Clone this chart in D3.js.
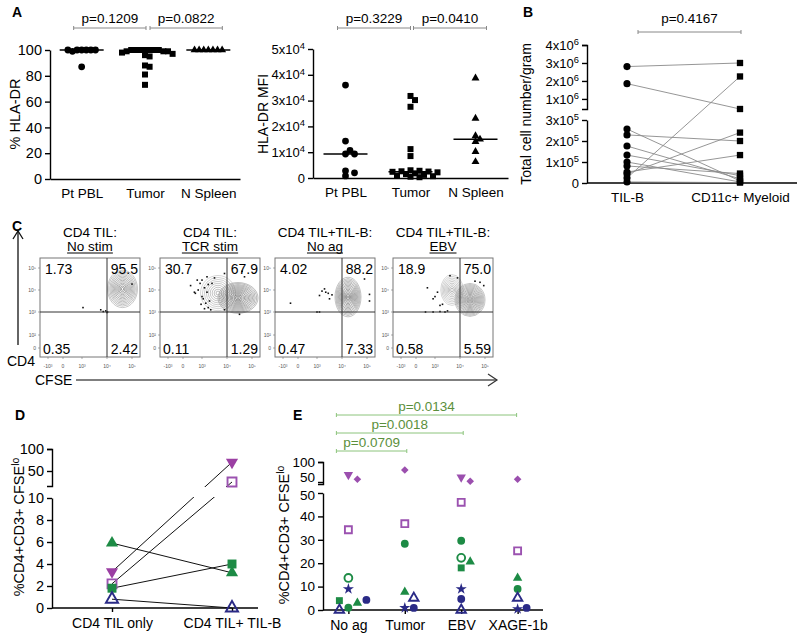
<!DOCTYPE html>
<html><head><meta charset="utf-8">
<script src="https://cdn.jsdelivr.net/npm/d3@7"></script>
<style>body{margin:0;background:#fff}svg{display:block}text{font-family:"Liberation Sans",Arial,Helvetica,sans-serif}</style>
</head><body><svg id="c" width="800" height="639"></svg>
<script>
// ---------------- DATA ----------------
const catsA = ["Pt PBL", "Tumor", "N Spleen"];
const pctTicks = [0, 20, 40, 60, 80, 100];
const pctPBL = [100, 100, 100, 100, 99, 100, 100, 87];
const pctTumor = [100, 100, 100, 100, 100, 100, 100, 99, 99, 99, 98, 97, 96, 95, 88, 87, 81, 73];
const pctSpleen = [100, 100, 100, 100, 100, 100, 100];
const pA1 = ["p=0.1209", "p=0.0822"];

const mfiTicks = [0, 10000, 20000, 30000, 40000, 50000];
const mfiPBL = [36000, 14300, 9300, 9300, 10700, 2800, 2000, 800];
const mfiTumor = [31800, 30200, 27600, 11200, 8500, 3000, 2800, 2600, 2500, 2400, 2200, 1800, 1500, 1200, 900, 700, 500, 300];
const mfiSpleen = [38700, 23100, 16300, 14100, 15000, 10200, 6300];
const pA2 = ["p=0.3229", "p=0.0410"];

const catsB = ["TIL-B", "CD11c+ Myeloid"];
const bTicksLow = [0, 100000, 200000, 300000];
const bTicksHigh = [1000000, 2000000, 3000000, 4000000];
const tilB =    [2800000, 1850000, 257000, 229000, 176000, 133000, 100000, 81000, 52000, 43000, 24000, 5000];
const myeloid = [3000000, 440000, 10000, 200000, 20000, 35000, 5000, 45000, 133000, 240000, 2250000, 2000];
const pB = "p=0.4167";

const flowTitle1 = ["CD4 TIL:", "CD4 TIL:", "CD4 TIL+TIL-B:", "CD4 TIL+TIL-B:"];
const flowTitle2 = ["No stim", "TCR stim", "No ag", "EBV"];
const quadUL = ["1.73", "30.7", "4.02", "18.9"];
const quadUR = ["95.5", "67.9", "88.2", "75.0"];
const quadLL = ["0.35", "0.11", "0.47", "0.58"];
const quadLR = ["2.42", "1.29", "7.33", "5.59"];
const flowXTicks = ["-10³", "0", "10³", "10⁴", "10⁵"];
const flowYTicks = ["0", "10²", "10³", "10⁴", "10⁵"];
// populations: [center x (decades), center y (decades), radius x, radius y, rings, shade]
const flowPops = [
  [[2.62, 3.05, 0.6, 0.85, 13, 0.6]],
  [[1.64, 2.86, 0.7, 0.8, 9, 0.45], [2.44, 2.64, 0.8, 0.7, 15, 0.7]],
  [[2.24, 2.68, 0.52, 0.9, 15, 0.65]],
  [[1.68, 3.0, 0.45, 0.7, 9, 0.45], [2.4, 2.55, 0.6, 0.75, 15, 0.65]]
];
const flowDots = [
  [[1.04,2.2],[1.75,2.1],[1.85,2.02],[1.95,2.05],[2.0,1.98],[2.02,2.0],[3.0,3.27]],
  [[0.4,3.2],[0.6,2.9],[0.65,2.85],[0.8,3.0],[0.9,3.3],[1.0,3.45],[1.1,3.1],[1.2,2.9],[1.0,2.7],[1.05,2.6],[1.15,2.4],[1.25,2.2],[1.3,2.5],[1.35,2.1],[0.95,2.35],[1.1,2.15],[1.2,3.6],[1.4,3.3],[1.5,3.55],[1.9,3.75],[2.6,3.85],[2.7,3.6],[1.9,2.1],[2.5,1.9],[0.75,3.45],[1.25,3.25]],
  [[-0.5,2.4],[1.2,2.95],[1.3,3.05],[1.35,2.9],[1.45,2.85],[1.5,2.6],[1.1,2.75],[1.6,2.78],[1.0,2.0],[1.1,2.0],[2.9,3.5],[3.1,2.5],[3.1,2.8]],
  [[0.6,3.1],[0.9,2.6],[1.0,2.7],[1.1,2.9],[1.2,2.3],[1.3,2.35],[0.5,2.0],[0.9,2.0],[1.2,2.02],[1.4,2.0],[1.5,2.05],[1.6,3.65],[1.9,3.55],[2.6,3.4],[2.8,3.35],[2.95,3.2]]
];

const catsD = ["CD4 TIL only", "CD4 TIL+ TIL-B"];
const dTicksLow = [0, 2, 4, 6, 8, 10];
const dTicksHigh = [50, 100];
const dMarkers = ["tri", "triDown", "squareOpen", "square", "triOpen"];
const dColors = ["#1d8b45", "#9b3fa3", "#9b52b0", "#1d8b45", "#2a2a86"];
const dBefore = [5.9, 3.3, 2.2, 1.8, 0.8];
const dAfter = [3.2, 70, 25, 4.0, 0];

const catsE = ["No ag", "Tumor", "EBV", "XAGE-1b"];
const eTicksLow = [0, 10, 20, 30, 40, 50];
const eTicksHigh = [50, 100];
const eMarkers = ["triDown", "diamond", "squareOpen", "circleOpen", "circle", "tri", "square", "star", "circle", "triOpen"];
const eColors = ["#9b4fae", "#9b4fae", "#9b52b0", "#1d8b45", "#1d8b45", "#1d8b45", "#1d8b45", "#2a2a86", "#2a2a86", "#2a2a86"];
const eNoAg  = [68, 57, 34.3, 13.7, 1, 3, 4, 9, 4.3, 0];
const eTumor = [null, 80, 36.9, null, 28.3, 7.7, null, 0.9, 0.9, 5.1];
const eEBV   = [62, 52, 46, 22.3, 29.6, 20.6, 18, 9, 4.7, 0];
const eXAGE  = [null, 57, 25.3, null, 9, 13.7, null, 0.4, 0.9, 5.1];
const pE = ["p=0.0709", "p=0.0018", "p=0.0134"];

// ---------------- HELPERS ----------------
const svg = d3.select("#c");
function styleAxis(g, fs, sw) {
  g.selectAll("text").attr("font-size", fs).attr("fill", "#000").attr("font-family", '"Liberation Sans",Arial,sans-serif');
  g.selectAll("line,path").attr("stroke", "#000").attr("stroke-width", sw || 1.4);
  return g;
}
function supTicks(g, exp, fs) {
  g.selectAll(".tick text").each(function (d) {
    const t = d3.select(this);
    if (d === 0) { t.text("0"); return; }
    t.text(null);
    t.append("tspan").text(Math.round(d / Math.pow(10, exp)) + "x10");
    t.append("tspan").attr("dy", "-0.5em").attr("font-size", fs * 0.72).text(exp);
  });
}
function marker(g, type, color, x, y, s) {
  let path, rot = 0, fill = color, stroke = "none", sw = 0;
  const open = type.endsWith("Open");
  const base = open ? type.replace("Open", "") : type;
  if (base === "circle") path = d3.symbol().type(d3.symbolCircle).size(s)();
  else if (base === "square") path = d3.symbol().type(d3.symbolSquare).size(s)();
  else if (base === "tri") path = d3.symbol().type(d3.symbolTriangle).size(s * 0.8)();
  else if (base === "triDown") { path = d3.symbol().type(d3.symbolTriangle).size(s * 0.8)(); rot = 180; }
  else if (base === "diamond") { path = d3.symbol().type(d3.symbolSquare).size(s * 0.6)(); rot = 45; }
  else if (base === "star") path = d3.symbol().type(d3.symbolStar).size(s * 0.8)();
  if (open) { fill = "none"; stroke = color; sw = 1.9; }
  g.append("path").attr("d", path).attr("transform", `translate(${x},${y}) rotate(${rot})`)
    .attr("fill", fill).attr("stroke", stroke).attr("stroke-width", sw);
}
function dodge(ys, dist, step) {
  const placed = [];
  return ys.map(y => {
    let off = 0;
    for (let i = 0; i < 60; i++) {
      off = i === 0 ? 0 : (i % 2 ? 1 : -1) * Math.ceil(i / 2) * step;
      if (placed.every(p => Math.hypot(p[0] - off, p[1] - y) >= dist)) break;
    }
    placed.push([off, y]);
    return off;
  });
}
function bracket(x1, x2, y, label, ty, col, tcol, fs) {
  svg.append("line").attr("x1", x1).attr("x2", x2).attr("y1", y).attr("y2", y).attr("stroke", col).attr("stroke-width", 1);
  [x1, x2].forEach(x => svg.append("line").attr("x1", x).attr("x2", x).attr("y1", y - 2).attr("y2", y + 2).attr("stroke", col).attr("stroke-width", 1));
  svg.append("text").attr("x", (x1 + x2) / 2).attr("y", ty).attr("text-anchor", "middle").attr("font-size", fs).attr("fill", tcol).text(label);
}
function panelLabel(t, x, y) {
  svg.append("text").attr("x", x).attr("y", y).attr("font-size", 14).attr("font-weight", "bold").text(t);
}
function yLabel(x, y, fs, parts) {
  const t = svg.append("text").attr("transform", `translate(${x},${y}) rotate(-90)`).attr("text-anchor", "middle").attr("font-size", fs);
  parts.forEach(p => { const ts = t.append("tspan").text(p[0]); if (p[1]) ts.attr("dy", p[1]).attr("font-size", fs * 0.72); });
}
function grey(v) { const c = Math.round(255 * v); return d3.rgb(c, c, c).toString(); }

// ---------------- PANEL A (left) ----------------
panelLabel("A", 12, 17);
{
  const x = d3.scalePoint().domain(catsA).range([50, 240]).padding(0.5);
  const y = d3.scaleLinear().domain([0, 100]).range([179, 50]);
  styleAxis(svg.append("g").attr("transform", "translate(50,0)").call(d3.axisLeft(y).tickValues(pctTicks).tickSize(5).tickSizeOuter(0).tickPadding(3)), 14.5);
  styleAxis(svg.append("g").attr("transform", "translate(0,179)").call(d3.axisBottom(x).tickSize(0).tickSizeOuter(0).tickPadding(9)), 13.5);
  yLabel(20, 114, 14.5, [["% HLA-DR"]]);
  const groups = [[pctPBL, "circle", 36], [pctTumor, "square", 36], [pctSpleen, "tri", 34]];
  groups.forEach((gr, i) => {
    const cx = x(catsA[i]);
    const ys = gr[0].map(v => y(v));
    const offs = dodge(ys, 4.2, 4.6);
    const g = svg.append("g");
    gr[0].forEach((v, j) => marker(g, gr[1], "#000", cx + offs[j], ys[j], gr[2]));
    const m = d3.median(gr[0]);
    svg.append("line").attr("x1", cx - 22).attr("x2", cx + 22).attr("y1", y(m)).attr("y2", y(m)).attr("stroke", "#000").attr("stroke-width", 1.5);
  });
  bracket(x(catsA[0]) - 8, x(catsA[1]) + 1, 28, pA1[0], 23, "#888", "#000", 13.5);
  bracket(x(catsA[1]) + 5, x(catsA[2]) + 14, 28, pA1[1], 23, "#888", "#000", 13.5);
}

// ---------------- PANEL A (right) ----------------
{
  const x = d3.scalePoint().domain(catsA).range([313, 508]).padding(0.5);
  const y = d3.scaleLinear().domain([0, 50000]).range([178, 49]);
  const ag = svg.append("g").attr("transform", "translate(313,0)").call(d3.axisLeft(y).tickValues(mfiTicks).tickSize(5).tickSizeOuter(0).tickPadding(3));
  styleAxis(ag, 13);
  supTicks(ag, 4, 13);
  styleAxis(svg.append("g").attr("transform", "translate(0,178)").call(d3.axisBottom(x).tickSize(0).tickSizeOuter(0).tickPadding(9)), 13.5);
  yLabel(268, 114, 14, [["HLA-DR MFI"]]);
  const groups = [[mfiPBL, "circle", 36], [mfiTumor, "square", 36], [mfiSpleen, "tri", 34]];
  groups.forEach((gr, i) => {
    const cx = x(catsA[i]);
    const ys = gr[0].map(v => y(v));
    const offs = dodge(ys, 5, 4.5);
    const g = svg.append("g");
    gr[0].forEach((v, j) => marker(g, gr[1], "#000", cx + offs[j], ys[j], gr[2]));
    const m = d3.median(gr[0]);
    svg.append("line").attr("x1", cx - 22).attr("x2", cx + 22).attr("y1", y(m)).attr("y2", y(m)).attr("stroke", "#000").attr("stroke-width", 1.5);
  });
  bracket(x(catsA[0]) - 8, x(catsA[1]) + 0, 28, pA2[0], 23, "#888", "#000", 13.5);
  bracket(x(catsA[1]) + 3, x(catsA[2]) + 11, 28, pA2[1], 23, "#888", "#000", 13.5);
}

// ---------------- PANEL B ----------------
panelLabel("B", 523, 17);
{
  const x = d3.scalePoint().domain(catsB).range([627, 740]);
  const yl = d3.scaleLinear().domain([0, 300000]).range([183, 120]);
  const yu = d3.scaleLinear().domain([440000, 4000000]).range([109, 45]);
  const yB = v => v <= 300000 ? yl(v) : yu(v);
  const a1 = svg.append("g").attr("transform", "translate(587,0)").call(d3.axisLeft(yl).tickValues(bTicksLow).tickSize(5).tickSizeOuter(0).tickPadding(3));
  styleAxis(a1, 13); supTicks(a1, 5, 13);
  const a2 = svg.append("g").attr("transform", "translate(587,0)").call(d3.axisLeft(yu).tickValues(bTicksHigh).tickSize(5).tickSizeOuter(5).tickPadding(3));
  styleAxis(a2, 13); supTicks(a2, 6, 13);
  svg.append("line").attr("x1", 587).attr("x2", 797).attr("y1", 183).attr("y2", 183).attr("stroke", "#000").attr("stroke-width", 1.4);
  const xa = svg.append("g").attr("transform", "translate(0,183)").call(d3.axisBottom(x).tickSize(0).tickPadding(9));
  xa.select(".domain").remove();
  styleAxis(xa, 13.5);
  yLabel(531, 114, 14, [["Total cell number/gram"]]);
  const lg = svg.append("g");
  tilB.forEach((v, i) => lg.append("line").attr("x1", x(catsB[0])).attr("y1", yB(v)).attr("x2", x(catsB[1])).attr("y2", yB(myeloid[i])).attr("stroke", "#8a8a8a").attr("stroke-width", 0.9));
  const g = svg.append("g");
  tilB.forEach(v => marker(g, "circle", "#000", x(catsB[0]), yB(v), 40));
  myeloid.forEach(v => marker(g, "square", "#000", x(catsB[1]), yB(v), 40));
  bracket(638, 741, 32, pB, 23, "#888", "#000", 13.5);
}

// ---------------- PANEL C ----------------
panelLabel("C", 12, 231);
{
  const lefts = [40, 160, 275, 393];
  const top = 258, W = 100, H = 99;
  const fx = d3.scaleLinear().domain([-1, 0, 1, 2, 3]).range([8, 23, 42, 67, 92]);
  const fy = d3.scaleLinear().domain([0, 1, 2, 3, 4]).range([90, 77, 54, 32, 10]);
  lefts.forEach((L, p) => {
    const g = svg.append("g").attr("transform", `translate(${L},${top})`);
    flowPops[p].forEach(pop => {
      const n = pop[4];
      const rx = Math.abs(fx(pop[0] + pop[2]) - fx(pop[0]));
      const ry = Math.abs(fy(pop[1] + pop[3]) - fy(pop[1]));
      for (let k = n; k >= 1; k--) {
        const f = k / n;
        g.append("ellipse").attr("cx", fx(pop[0])).attr("cy", fy(pop[1]))
          .attr("rx", rx * f).attr("ry", ry * f)
          .attr("fill", "none").attr("stroke", grey(1 - pop[5] * (0.6 + 0.4 * (1 - f))))
          .attr("stroke-width", 0.6);
      }
    });
    flowDots[p].forEach(d => g.append("rect").attr("x", fx(d[0]) - 0.8).attr("y", fy(d[1]) - 0.8).attr("width", 1.6).attr("height", 1.6).attr("fill", "#111"));
    g.append("rect").attr("x", 0).attr("y", 0).attr("width", W).attr("height", H).attr("fill", "none").attr("stroke", "#777").attr("stroke-width", 1);
    g.append("line").attr("x1", fx(2)).attr("x2", fx(2)).attr("y1", 0).attr("y2", H).attr("stroke", "#333").attr("stroke-width", 1);
    g.append("line").attr("x1", 0).attr("x2", W).attr("y1", fy(2)).attr("y2", fy(2)).attr("stroke", "#333").attr("stroke-width", 1);
    [-1, 0, 1, 2, 3].forEach((u, i) => {
      g.append("line").attr("x1", fx(u)).attr("x2", fx(u)).attr("y1", H).attr("y2", H + 2).attr("stroke", "#777").attr("stroke-width", 0.6);
      g.append("text").attr("x", fx(u)).attr("y", H + 11).attr("text-anchor", "middle").attr("font-size", 5).attr("fill", "#555").text(flowXTicks[i]);
    });
    [0, 1, 2, 3, 4].forEach((u, i) => {
      g.append("line").attr("x1", -2).attr("x2", 0).attr("y1", fy(u)).attr("y2", fy(u)).attr("stroke", "#777").attr("stroke-width", 0.6);
      g.append("text").attr("x", -4).attr("y", fy(u) + 1.5).attr("text-anchor", "end").attr("font-size", 5).attr("fill", "#555").text(flowYTicks[i]);
    });
    g.append("text").attr("x", 5).attr("y", 16).attr("font-size", 14).text(quadUL[p]);
    g.append("text").attr("x", W - 2).attr("y", 16).attr("text-anchor", "end").attr("font-size", 14).text(quadUR[p]);
    g.append("text").attr("x", 3).attr("y", 96).attr("font-size", 14).text(quadLL[p]);
    g.append("text").attr("x", W - 2).attr("y", 96).attr("text-anchor", "end").attr("font-size", 14).text(quadLR[p]);
    g.append("text").attr("x", W / 2).attr("y", -21).attr("text-anchor", "middle").attr("font-size", 13.5).text(flowTitle1[p]);
    const t2 = g.append("text").attr("x", W / 2).attr("y", -7).attr("text-anchor", "middle").attr("font-size", 13.5).text(flowTitle2[p]);
    const w2 = t2.node().getComputedTextLength();
    g.append("line").attr("x1", W / 2 - w2 / 2).attr("x2", W / 2 + w2 / 2).attr("y1", -5).attr("y2", -5).attr("stroke", "#000").attr("stroke-width", 1);
  });
  svg.append("line").attr("x1", 18).attr("x2", 18).attr("y1", 345).attr("y2", 231).attr("stroke", "#111").attr("stroke-width", 1.3);
  svg.append("path").attr("d", "M13,239 L18,231 L23,239").attr("fill", "none").attr("stroke", "#111").attr("stroke-width", 1.3);
  svg.append("text").attr("x", 7).attr("y", 366).attr("font-size", 14).text("CD4");
  svg.append("text").attr("x", 35).attr("y", 385).attr("font-size", 14).text("CFSE");
  svg.append("line").attr("x1", 76).attr("x2", 497).attr("y1", 380).attr("y2", 380).attr("stroke", "#555").attr("stroke-width", 1.4);
  svg.append("path").attr("d", "M488,374 L497,380 L488,386").attr("fill", "none").attr("stroke", "#333").attr("stroke-width", 1.2);
}

// ---------------- PANEL D ----------------
panelLabel("D", 15, 420);
{
  const x = d3.scalePoint().domain(catsD).range([112, 232]);
  const yl = d3.scaleLinear().domain([0, 10]).range([608, 498]);
  const yu = d3.scaleLinear().domain([15.9, 100]).range([486, 449]);
  const yD = v => v <= 10 ? yl(v) : yu(v);
  styleAxis(svg.append("g").attr("transform", "translate(52,0)").call(d3.axisLeft(yl).tickValues(dTicksLow).tickSize(5).tickSizeOuter(0).tickPadding(3)), 14.5);
  styleAxis(svg.append("g").attr("transform", "translate(52,0)").call(d3.axisLeft(yu).tickValues(dTicksHigh).tickSize(5).tickSizeOuter(5).tickPadding(3)), 14.5);
  svg.append("line").attr("x1", 52).attr("x2", 258).attr("y1", 608).attr("y2", 608).attr("stroke", "#000").attr("stroke-width", 1.4);
  const xa = svg.append("g").attr("transform", "translate(0,608)").call(d3.axisBottom(x).tickSize(4).tickPadding(6));
  xa.select(".domain").remove();
  styleAxis(xa, 14);
  yLabel(24, 527, 14.5, [["%CD4+CD3+ CFSE"], ["lo", "-0.5em"]]);
  const lg = svg.append("g");
  dBefore.forEach((v, i) => lg.append("line").attr("x1", x(catsD[0])).attr("y1", yD(v)).attr("x2", x(catsD[1])).attr("y2", yD(dAfter[i])).attr("stroke", "#111").attr("stroke-width", 1));
  svg.append("rect").attr("x", 54).attr("y", 487).attr("width", 205).attr("height", 10).attr("fill", "#fff");
  const g = svg.append("g");
  dBefore.forEach((v, i) => marker(g, dMarkers[i], dColors[i], x(catsD[0]), yD(v), 80));
  dAfter.forEach((v, i) => marker(g, dMarkers[i], dColors[i], x(catsD[1]), yD(v), 80));
}

// ---------------- PANEL E ----------------
panelLabel("E", 293, 420);
{
  const x = d3.scalePoint().domain(catsE).range([323, 543]).padding(0.45);
  const yl = d3.scaleLinear().domain([0, 50]).range([610, 493]);
  const yu = d3.scaleLinear().domain([45, 100]).range([484, 462]);
  const yE = v => v <= 50 ? yl(v) : yu(v);
  const al = svg.append("g").attr("transform", "translate(323,0)").call(d3.axisLeft(yl).tickValues(eTicksLow).tickSize(5).tickSizeOuter(0).tickPadding(3));
  styleAxis(al, 13.5);
  al.selectAll(".tick text").attr("dy", (d) => d === 50 ? "0.45em" : "0.32em");
  const au = svg.append("g").attr("transform", "translate(323,0)").call(d3.axisLeft(yu).tickValues(eTicksHigh).tickSize(5).tickSizeOuter(5).tickPadding(3));
  styleAxis(au, 13.5);
  au.selectAll(".tick text").attr("dy", (d) => d === 50 ? "-0.05em" : "0.32em");
  svg.append("line").attr("x1", 323).attr("x2", 543).attr("y1", 610).attr("y2", 610).attr("stroke", "#000").attr("stroke-width", 1.4);
  const xa = svg.append("g").attr("transform", "translate(0,610)").call(d3.axisBottom(x).tickSize(4).tickPadding(6));
  xa.select(".domain").remove();
  styleAxis(xa, 14);
  yLabel(289, 535, 14.5, [["%CD4+CD3+ CFSE"], ["lo", "-0.5em"]]);
  const series = [eNoAg, eTumor, eEBV, eXAGE];
  const g = svg.append("g");
  series.forEach((arr, c) => {
    const idx = arr.map((v, i) => i).filter(i => arr[i] !== null);
    const ys = idx.map(i => yE(arr[i]));
    const offs = dodge(ys, 8.5, 9);
    idx.forEach((i, k) => marker(g, eMarkers[i], eColors[i], x(catsE[c]) + offs[k], ys[k], 48));
  });
  const x0 = x(catsE[0]) - 12;
  bracket(x0, x(catsE[1]) + 2, 451, pE[0], 447, "#8cc47c", "#5b8f3c", 13.5);
  bracket(x0, x(catsE[2]) + 2, 433, pE[1], 429, "#8cc47c", "#5b8f3c", 13.5);
  bracket(x0, x(catsE[3]) - 1, 415, pE[2], 411, "#8cc47c", "#5b8f3c", 13.5);
}
</script></body></html>
